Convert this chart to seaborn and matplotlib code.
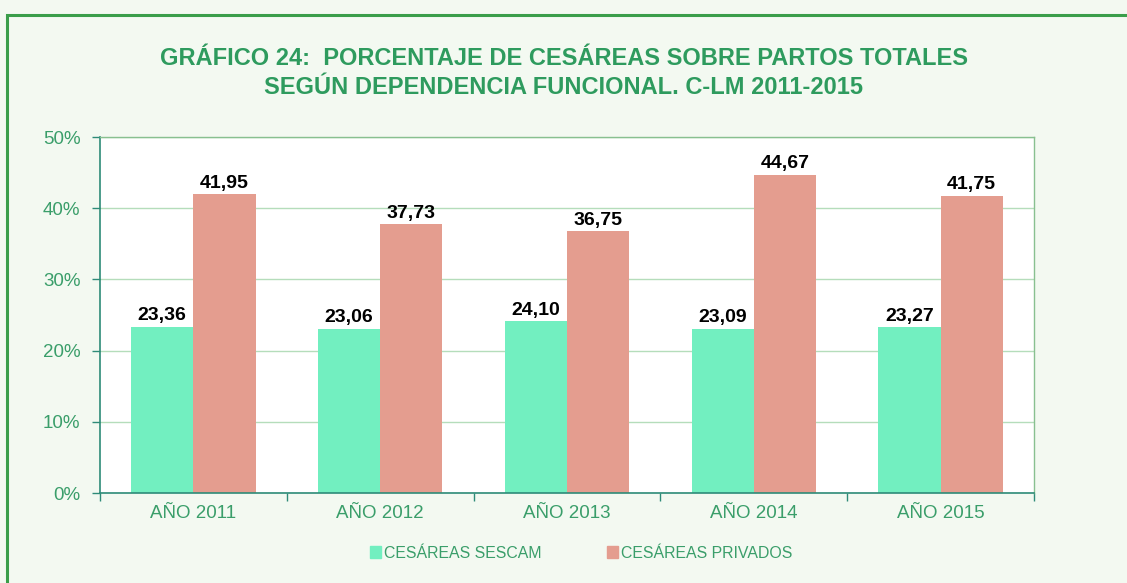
import matplotlib
matplotlib.use("Agg")
import matplotlib.pyplot as plt
import seaborn as sns
import pandas as pd
import numpy as np
from matplotlib.patches import Rectangle
from matplotlib.ticker import FixedLocator

categories = ["AÑO 2011", "AÑO 2012", "AÑO 2013", "AÑO 2014", "AÑO 2015"]
sescam = [23.36, 23.06, 24.10, 23.09, 23.27]
privados = [41.95, 37.73, 36.75, 44.67, 41.75]
series_names = ["CESÁREAS SESCAM", "CESÁREAS PRIVADOS"]
yticks = [0, 10, 20, 30, 40, 50]
title = "GRÁFICO 24:  PORCENTAJE DE CESÁREAS SOBRE PARTOS TOTALES\nSEGÚN DEPENDENCIA FUNCIONAL. C-LM 2011-2015"

df = pd.DataFrame({
    "cat": categories * 2,
    "val": sescam + privados,
    "serie": [series_names[0]] * 5 + [series_names[1]] * 5,
})

sns.set_style("white")
plt.rcParams["font.family"] = ["Liberation Sans", "DejaVu Sans"]

W, H = 1127, 583
fig = plt.figure(figsize=(W / 100, H / 100), dpi=100)
bg = "#F3F9F1"
fig.patch.set_facecolor(bg)
fig.patches.append(Rectangle((7 / W, -0.1), 1.2, 1 - 15 / H + 0.1, transform=fig.transFigure,
                             fill=False, edgecolor="#3A9E4A", linewidth=2.2, zorder=0))

ax = fig.add_axes([100 / W, 1 - 493 / H, (1034 - 100) / W, (493 - 137) / H])
ax.set_facecolor("white")
palette = {series_names[0]: "#72EFC0", series_names[1]: "#E49D8F"}
sns.barplot(data=df, x="cat", y="val", hue="serie", palette=palette, width=0.667,
            ax=ax, legend=False, saturation=1, edgecolor="none", linewidth=0)

ax.set_ylim(0, 50)
ax.set_xlim(-0.5, 4.5)
ax.set_yticks(yticks)
ax.set_yticklabels([f"{t}%" for t in yticks])
ax.yaxis.grid(True, color="#B5DDBB", linewidth=1)
ax.set_axisbelow(True)
ax.set_xlabel("")
ax.set_ylabel("")

tcol = "#3A9E6A"
ax.tick_params(axis="y", colors="#2E8B78", labelcolor=tcol, labelsize=13.5, length=6, width=1, direction="out", left=True, pad=8)
ax.tick_params(axis="x", which="major", length=0, labelcolor=tcol, labelsize=13.5, pad=9)
ax.xaxis.set_minor_locator(FixedLocator(np.arange(-0.5, 5, 1)))
ax.tick_params(axis="x", which="minor", length=6, color="#2E8B78", width=1, bottom=True)

for side in ["left", "bottom"]:
    ax.spines[side].set_color("#2E8B78")
    ax.spines[side].set_linewidth(1.2)
for side in ["top", "right"]:
    ax.spines[side].set_color("#88C090")
    ax.spines[side].set_linewidth(1)

for cont in ax.containers:
    ax.bar_label(cont, labels=[f"{v:.2f}".replace(".", ",") for v in cont.datavalues],
                 fontsize=14, fontweight="bold", color="black", padding=2)

fig.text(564 / W, 1 - 73 / H, title, ha="center", va="center", fontsize=17, fontweight="bold",
         color="#2E9B5E", linespacing=1.3)

handles = [Rectangle((0, 0), 1, 1, color=palette[s]) for s in series_names]
leg = fig.legend(handles, series_names, loc="center", bbox_to_anchor=(581 / W, 1 - 553 / H), ncol=2,
                 frameon=False, fontsize=11.4, handlelength=0.7, handleheight=0.7, handletextpad=0.2,
                 columnspacing=4.1)
for t in leg.get_texts():
    t.set_color(tcol)

fig.savefig("out.png", dpi=100, facecolor=bg)
